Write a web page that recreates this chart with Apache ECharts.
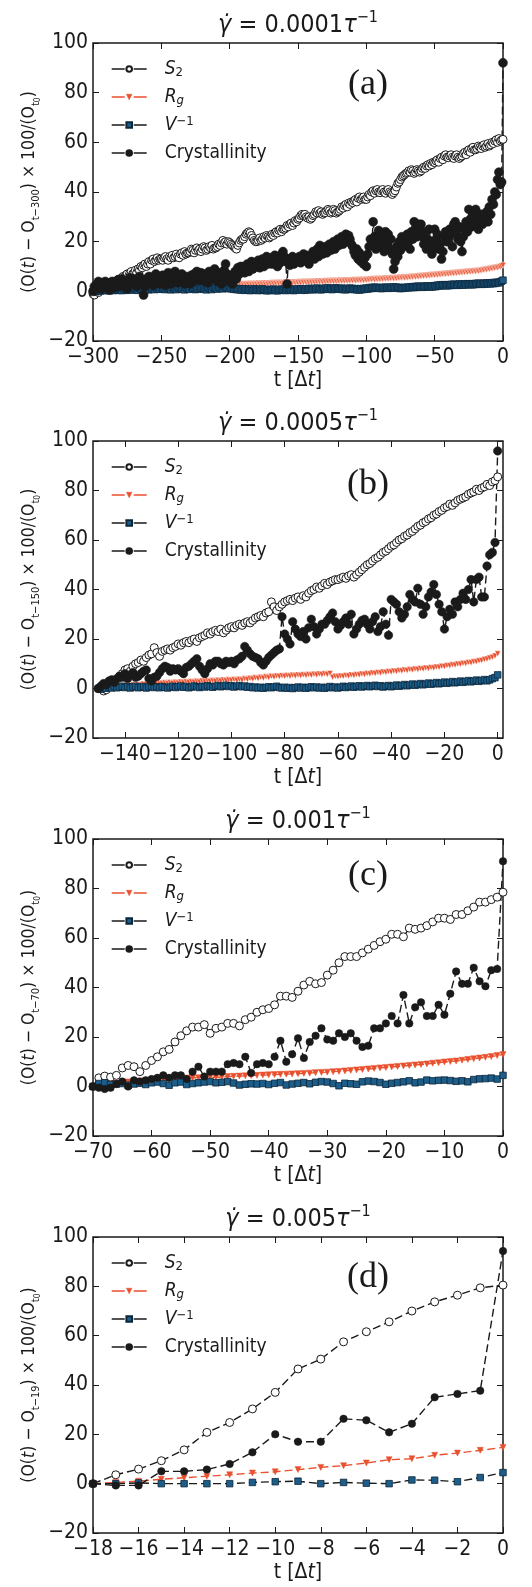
<!DOCTYPE html>
<html><head><meta charset="utf-8">
<script src="https://cdn.jsdelivr.net/npm/echarts@6/dist/echarts.min.js"></script>
<style>html,body{margin:0;padding:0;background:#fff}#c{width:532px;height:1587px}</style>
</head><body><div id="c"></div><script>
// ---------- DATA (t runs from T0 upward in steps of 1) ----------
const T0_A = -300;
const S2_A = [
-1,-1.5,0,0.5,-0.5,1,1.5,0.5,2,1.5,
2,2.5,1.5,3,3.5,2.5,4,3.5,4.5,5,
5,4.5,6,5.5,6.5,7,6,7.5,8,7,
7.5,8.5,7.5,9,8.5,10,9.5,10.5,11,10,
11,12,11,12.5,13,12,12.5,13.5,12.5,13,
13,12.5,13.5,14,13,12.5,14,13.5,14.5,13.5,
14,15,14,13.5,15,15.5,14.5,16,15,15.5,
15.5,16,17,16.5,15.5,16.5,17.5,16.5,17,16,
17,18,17.5,16.5,17,18,17.5,18.5,17,17.5,
17.5,18,19,18.5,19.5,20.5,19.5,20,19,20,
19.6,19,18.5,18,17.5,17,18.5,19.5,20.5,21,
21,22,23,23.5,24,23.6,22.5,21.5,20.5,20,
20,20.5,21.5,20.5,21,22,21.5,22.5,22,21.5,
22,23,22.5,23.5,24,23.5,24.5,25,24,25,
25,25.5,26.5,26,27,27.5,26.5,27.5,28.5,28,
29,29.5,30.5,31,30.5,31,30,29.5,30,29,
29.5,30.5,31,32,31.5,32.5,31.5,32,31,31.5,
31.7,32.5,33,32.5,31.5,32,33,32.5,31.5,32,
32.3,33,34,33.5,34.5,35,34,35.5,35,36,
35.7,36.5,37,36,37.5,38,37,37.5,38,37,
37,38,39,38.5,40,40.5,39.5,40.5,41,40,
39.7,40.5,41,40,39.5,40.5,41,40,39.5,39,
39.7,40.5,42,43.5,44,45,46,46.5,47,47.5,
47.8,48.5,48,49,48.5,47.5,48,49,48.5,48,
48.5,49.5,50,49.5,50.5,51,50.5,51.5,51,52,
51.8,52.5,53,52,53.5,54,53,54.5,55,54,
53.8,54.5,55,54,53.5,54.5,55,54,53.5,54,
54.5,55.5,56,55,56.5,57,56,57.5,58,57,
57,57.5,58.5,58,57.5,58.5,59,58,58.5,59.5,
58.5,59,60,59.5,60.5,61,60,61.5,60.5,61,
61.2];
const RG_A = [
0,0.4,0.1,0.4,0.1,0.5,0.2,0.5,0.2,0.6,
0.3,0.7,0.4,0.7,0.4,0.8,0.5,0.8,0.5,0.9,
0.6,1.0,0.7,1.0,0.7,1.1,0.8,1.1,0.8,1.2,
0.9,1.3,0.9,1.3,1.0,1.4,1.0,1.4,1.1,1.5,
1.1,1.5,1.2,1.6,1.2,1.6,1.3,1.7,1.3,1.7,
1.4,1.8,1.4,1.8,1.5,1.9,1.5,1.9,1.6,2.0,
1.6,2.0,1.7,2.1,1.7,2.1,1.8,2.2,1.8,2.2,
1.9,2.3,1.9,2.3,2.0,2.4,2.0,2.4,2.0,2.4,
2.1,2.5,2.1,2.5,2.2,2.6,2.2,2.6,2.2,2.6,
2.3,2.7,2.3,2.7,2.4,2.8,2.4,2.8,2.4,2.8,
2.5,2.9,2.5,2.9,2.6,3.0,2.6,3.0,2.6,3.0,
2.7,3.1,2.7,3.1,2.8,3.2,2.8,3.2,2.8,3.2,
2.9,3.3,2.9,3.3,3.0,3.4,3.0,3.4,3.0,3.4,
3.1,3.5,3.1,3.5,3.2,3.6,3.2,3.6,3.2,3.6,
3.3,3.7,3.3,3.7,3.4,3.8,3.4,3.8,3.4,3.8,
3.5,3.9,3.5,3.9,3.6,4.0,3.6,4.0,3.6,4.0,
3.7,4.1,3.7,4.1,3.8,4.2,3.8,4.2,3.8,4.2,
3.9,4.3,3.9,4.3,4.0,4.4,4.0,4.4,4.0,4.4,
4.1,4.5,4.1,4.5,4.2,4.6,4.2,4.6,4.2,4.6,
4.3,4.7,4.3,4.7,4.4,4.8,4.4,4.8,4.4,4.8,
4.5,4.9,4.6,5.0,4.7,5.1,4.7,5.1,4.8,5.2,
4.8,5.2,4.9,5.3,5.0,5.4,5.0,5.4,5.1,5.5,
5.1,5.5,5.2,5.6,5.3,5.7,5.4,5.8,5.4,5.8,
5.5,5.9,5.6,6.0,5.7,6.1,5.8,6.2,5.9,6.3,
6.0,6.4,6.1,6.5,6.2,6.6,6.3,6.7,6.4,6.8,
6.5,6.9,6.6,7.0,6.7,7.1,6.8,7.2,6.9,7.3,
7.0,7.4,7.1,7.5,7.2,7.6,7.3,7.7,7.4,7.8,
7.5,7.9,7.6,8.0,7.7,8.1,7.8,8.2,7.9,8.3,
8.0,8.4,8.1,8.5,8.3,8.7,8.5,8.9,8.7,9.1,
8.9,9.3,9.1,9.5,9.3,9.7,9.5,9.9,9.8,10.2,
10.5];
const VINV_A = [
0,0.3,-0.2,0.5,0.1,0.6,0.2,0.8,0.3,0.7,
0.4,0.9,0.2,0.6,1.0,0.3,0.8,0.5,1.1,0.4,
0.9,0.3,1.2,0.6,1.0,0.4,1.3,0.7,1.1,0.5,
1.2,0.6,1.0,0.4,1.3,0.8,1.1,0.5,1.4,0.7,
1.2,0.6,1.5,0.9,1.3,0.7,1.6,1.0,1.4,0.8,
1.5,0.9,1.3,0.7,1.6,1.0,1.2,0.6,1.5,0.9,
1.3,0.7,1.6,1.1,1.4,0.8,1.2,0.6,1.5,1.0,
1.3,0.8,1.6,1.0,1.4,0.7,1.2,0.9,1.5,1.1,
1.4,0.8,1.2,0.6,1.5,1.0,1.3,0.7,1.6,1.1,
1.4,0.9,1.7,1.2,1.5,1.0,1.8,1.3,1.6,1.1,
1.5,1.0,1.3,0.8,1.2,0.7,1.1,0.6,1.0,0.5,
0.9,0.4,1.0,0.5,0.8,0.3,0.9,0.4,1.0,0.5,
0.8,0.3,0.9,0.4,1.0,0.5,0.8,0.2,0.7,0.3,
0.8,0.4,0.9,0.3,0.7,0.2,0.8,0.4,0.9,0.5,
0.8,0.3,0.9,0.5,1.0,0.4,0.8,0.3,0.9,0.5,
1.0,0.6,1.1,0.5,0.9,0.4,1.0,0.6,1.2,0.7,
1.1,0.6,1.2,0.8,1.3,0.7,1.1,0.6,1.2,0.8,
1.3,0.9,1.4,0.8,1.2,0.7,1.3,0.9,1.4,1.0,
1.2,0.8,1.3,0.7,1.1,0.6,1.2,0.8,1.3,0.9,
1.2,0.7,1.1,0.6,1.0,0.5,1.1,0.7,1.2,0.8,
1.3,0.9,1.5,1.1,1.6,1.2,1.7,1.3,1.6,1.2,
1.5,1.1,1.6,1.2,1.7,1.3,1.6,1.2,1.7,1.4,
1.8,1.3,1.7,1.2,1.6,1.1,1.5,1.2,1.6,1.3,
1.7,1.4,1.8,1.5,1.9,1.5,2.0,1.6,2.1,1.7,
2.0,1.6,2.1,1.7,2.2,1.8,2.1,1.7,2.2,1.8,
2.3,1.9,2.5,2.1,2.6,2.2,2.7,2.3,2.6,2.2,
2.7,2.3,2.8,2.4,2.9,2.5,2.8,2.4,3.0,2.6,
2.9,2.5,3.0,2.6,3.1,2.7,3.0,2.6,3.1,2.7,
3.2,2.8,3.3,2.9,3.2,2.8,3.3,2.9,3.4,3.0,
3.4,3.0,3.5,3.1,3.6,3.2,3.7,3.4,3.9,4.1,
4.5];
const CRYST_A = [
0,2,1,3,4,2,1,3.5,2,4,
3,1,0.5,2.5,4,3,1.5,3,4.5,2,
3.5,5,2.5,4,3,1,4.5,5.5,3,4,
5,3.5,2,4.5,6,3,4,-1.5,2,5,
4,6,3.5,5.5,2.5,5,7,4,6,3,
5,6.5,4,2.5,6,7.5,4.5,3,6,5,
8,5.5,3.5,6.5,4,7,5,3,6,4.5,
5.5,3,6.5,4,7,5,8,6,4.5,7.5,
5.5,7,4,6,3.5,8,6.5,5,7,9,
6,4,7.5,5.5,3,6,8.5,11,7,5,
4,6.5,3,5.5,8,5,9.5,7,10,8.5,
10,7.5,9,11,8,10.5,12,9,11.5,10,
10,12.5,9.5,11,13,10,12,14,11,12.5,
13.5,11,12,14.5,12.5,10,13,11.5,15,16,
14,12,3,13,10.5,12.5,14,11,13,12,
12,14,11.5,13,15,12.5,14.5,13,11,14,
14,16,13,15.5,17,14,18.5,16,15,17.5,
18,15.5,17,19,16.5,18,20,17,19.5,21,
18.5,20,22,19,21,23,20.5,22.5,21,19,
18,16,14.5,17,13,15.5,12,14,11,13.5,
10,15,18,21,19,28,22,17,20,24.5,
20,18,22,16,24,19,23,17,21,15,
9,12,18,14,20,16.5,22,18,21,19.5,
23,20,17,24,21,28,25.5,22,27,24,
27,22,19,24,17,21,25,20,15,18,
25,21,23,17,19,13,16,22,24,20,
21,25,23,18,27,28,24,21,26,20,
16,22,25,28,24,33,29,26,31,27,
33,29,25,28,31,27,29,30,32,28,
34,31,37,35,40,39,45,48,43,44,
92];

const T0_B = -150;
const S2_B = [
0,0.5,-1,-0.5,1,2,3,3.5,5,6,
7.5,8,7,9,10,10.5,11.5,11,12.5,13.5,
14,16.5,14.5,13,15,15.5,16,15.5,16.5,17,
18,17.5,18.5,19,18.5,19.5,20,19,20.5,21,
21.5,22.5,22,23,23.5,23,24,22.5,23.5,24.5,
25,24.5,25.5,26,25.5,26.5,27,26.5,27.5,28.5,
29,29.5,29,30.5,31,35,33,31.5,33,34,
35,35.5,36,35.5,36.5,37,36,37.5,37,38.5,
39.5,40,41,40.5,41.5,42.5,42,43,43.5,44,
44,44.5,45,44.5,45.5,46,45,46,47,48,
49,50,50.5,51.5,52.5,53,54,55,55.5,56.5,
57.5,58,59,60,60.5,61.5,62,63,63.5,64.5,
65.5,66,67,67.5,68.5,69,70,70.5,71.5,72,
73,73.5,74.5,74,75,76,76.5,77,77.5,78.5,
79,79.5,80.5,80,81,81.5,82.5,82,83.5,84,
85.5];
const RG_B = [
0,0.3,0.2,0.6,0.4,0.8,0.6,1.0,0.8,1.2,
1.0,1.3,1.1,1.5,1.3,1.6,1.4,1.8,1.6,1.9,
1.7,2.1,1.8,2.2,1.9,2.3,2.0,2.4,2.1,2.5,
2.2,2.6,2.3,2.7,2.4,2.8,2.5,2.9,2.6,3.0,
2.7,3.1,2.8,3.2,2.9,3.3,3.0,3.4,3.1,3.5,
3.2,3.6,3.3,3.7,3.4,3.9,3.6,4.1,3.8,4.3,
4.0,4.5,4.2,4.7,4.4,4.9,4.6,5.1,4.8,5.2,
4.9,5.3,5.0,5.4,5.1,5.5,5.2,5.6,5.3,5.7,
5.4,5.8,5.5,5.9,5.6,6.0,5.7,6.1,4.5,4.9,
4.7,5.1,4.9,5.3,5.1,5.5,5.3,5.7,5.5,5.9,
5.7,6.1,5.9,6.3,6.1,6.5,6.3,6.7,6.5,6.9,
6.7,7.1,6.9,7.3,7.1,7.5,7.3,7.7,7.5,7.9,
7.7,8.1,7.9,8.3,8.1,8.5,8.3,8.7,8.6,9.0,
8.9,9.3,9.2,9.6,9.5,9.9,9.8,10.2,10.1,10.5,
10.4,10.8,10.8,11.2,11.3,11.7,11.9,12.3,12.6,13.1,
14];
const VINV_B = [
0,-0.3,0.4,0.1,0.6,0.2,0.8,0.3,0.5,0.9,
0.4,0.7,0.2,0.6,0.9,0.3,0.5,0.8,0.2,0.6,
0.9,0.4,0.7,0.3,0.8,0.5,0.2,0.6,0.9,0.4,
0.7,1.0,0.5,0.8,0.3,0.6,1.0,0.7,0.4,0.9,
0.6,1.1,0.8,0.5,0.9,1.2,0.7,1.0,1.3,0.8,
1.1,0.6,0.9,1.2,0.7,1.0,0.5,0.8,0.3,0.6,
0.2,0.5,0.1,0.4,0.7,0.3,0.6,0.9,0.4,0.2,
0.5,0.1,0.4,0.0,0.3,0.6,0.2,0.5,0.1,0.4,
0.7,0.3,0.6,0.2,0.5,0.1,0.4,0.8,0.3,0.6,
0.2,0.5,0.9,0.4,0.7,1.0,0.5,0.8,1.1,0.6,
0.9,1.2,0.7,1.0,1.3,0.8,1.1,0.6,0.9,1.2,
0.7,1.0,1.4,0.9,1.2,1.6,1.1,1.4,1.8,1.3,
1.6,2.0,1.5,1.8,2.2,1.7,2.0,2.4,1.9,2.2,
2.6,2.1,2.4,2.8,2.3,2.6,3.0,2.5,2.8,3.2,
2.7,3.0,3.4,2.9,3.2,3.6,3.1,3.5,4.0,4.4,
5.5];
const CRYST_B = [
0,1,2,1.5,3,3.5,2.5,4,5,4.5,
6,4,5.5,6.5,4.5,5,6,7,7.5,4,
3,4.5,5,6.5,8,9,8.5,7,8,7.5,
8,7,6,8.5,9,10,11,12,9,7.5,
6,8,10,9.5,11,11,10,9.5,11,10.5,
11,10,11.5,12,13,17,15.5,14,13,12.5,
12,10.5,9.5,11,12.5,13.5,14.5,15.5,16,29,
22,20,18,27,24,22,21,23,20,24.5,
28,25,22,24,26,26,27.5,29,30.5,27,
24,25.5,27,28.5,26,30,22,24,26,27.5,
28,26,24,27,29,23,25,31,26,21.5,
36,35,34,31,28.5,30,33,38,36,35,
40.5,34,30,33,37,39,42,38,34,31,
24,29,32,30,35,33,36,38.5,36,40,
44,35,44,45,37,37,49.5,54,55,59,
96];

const T0_C = -70;
const S2_C = [
0,3.5,4.2,3.8,4.5,7.5,8.5,8,6,8.5,
10.5,12,14,15,18,20.5,22.5,24,24,25,
21.5,23.5,24,25.5,25.5,24.5,27,28,30,31,
31.5,33,36.5,36.5,36,38.5,41,42.5,41.5,42,
45,47,50,52.5,52.5,52.5,54,55.5,57,58.5,
59.5,61.5,61.5,60.5,64,63.5,64,65,66.5,68,
68,67.5,69.5,69.5,71,72.5,74.5,74.5,75.5,76.5,
78.5];
const RG_C = [
0,0.5,0.8,1,1.3,1.5,1.8,2,2.2,2.3,
2.5,2.7,2.8,3,3.1,3.3,3.4,3.6,3.5,3.7,
3.8,3.7,3.9,4,4.1,4.2,4.3,4.4,4.5,4.6,
4.7,4.8,4.9,5.0,5.1,5.2,5.3,5.4,5.6,5.7,
5.8,6,6.1,6.3,6.5,6.7,6.9,7.1,7.3,7.5,
7.7,7.9,8.1,8.3,8.5,8.7,8.9,9.1,9.4,9.6,
9.9,10.1,10.3,10.6,10.9,11.2,11.5,11.8,12.1,12.5,
12.9];
const VINV_C = [
0,1.2,1.5,0.8,1,1.2,0.5,1,1.3,0.8,
1.5,1.8,1.2,0.5,1.5,1.8,0.8,1.2,1.5,1.8,
2,1.5,1.7,2,1.4,0.6,0.9,1.1,1,1.2,
0.8,1.3,1.6,0.6,1,1.3,1.6,1.1,1.7,2,
1.8,1.2,0.3,1.3,1.1,0.9,1.9,2.2,2,1.6,
0.9,1.3,1.6,1.9,2.3,1.5,1.8,2.6,2.3,2.5,
2.6,2.4,2.1,2.3,1.9,2.8,3.1,3.2,3.4,3.0,
4.5];
const CRYST_C = [
0,-0.5,-1,-0.5,1,2,0,2.5,2,2.5,
3,3.5,4.5,3.5,4.5,4.5,3,6,8,4,
6,6,6,9,9.5,9,12,5.5,9,9.5,
9,12,18.5,10,13,19.5,11.5,18,20.5,23.5,
19,18.5,21.5,20,21.5,18.5,16,16.5,23.5,23.5,
25.5,28.5,25.5,37,25.5,32,34,28.5,28.5,33,
29,37.5,46.5,41.5,41.5,48,42.5,40.5,47,47.5,
91];

const T0_D = -18;
const S2_D = [0,3.6,5.9,9.3,13.7,20.8,24.8,30.3,37,46.5,50.5,57.5,61.6,65.6,70,73.7,76.4,79.4,80.5];
const RG_D = [0,0.5,1,1.8,2.4,3,3.6,4.3,4.8,5.7,6.6,7.3,8.4,9.7,10.1,11.5,12.4,13.5,14.7];
const VINV_D = [0,0,0.3,0,0,0,0,0.5,0.8,1,0,0.5,0.2,0,1.5,1.4,0.8,2.5,4.5];
const CRYST_D = [0,-0.7,-0.7,5,5,5.7,8,12.7,20,17,17,26.3,25.7,20.8,24.3,35,36.4,37.7,94.3];

const X_TICKS_A = [-300,-250,-200,-150,-100,-50,0];
const X_TICKS_B = [-140,-120,-100,-80,-60,-40,-20,0];
const X_TICKS_C = [-70,-60,-50,-40,-30,-20,-10,0];
const X_TICKS_D = [-18,-16,-14,-12,-10,-8,-6,-4,-2,0];
const Y_TICKS = [-20,0,20,40,60,80,100];
const SERIES_NAMES = ['S2','Rg','V-1','Crystallinity'];
const RATES = ['0.0001','0.0005','0.001','0.005'];
const REF_SUB = ['t−300','t−150','t−70','t−19'];
const LABELS = ['(a)','(b)','(c)','(d)'];

// ---------- LAYOUT / STYLE ----------
const FONT = "'DejaVu Sans Condensed','DejaVu Sans',sans-serif";
const INK = '#1a1a1a';
const RED = '#e9502e';
const BLUE = '#1d5d8a';
const PANELS = [
  {t0:T0_A, min:-300, max:0, ticks:X_TICKS_A, top:43,  h:298, vals:[S2_A,RG_A,VINV_A,CRYST_A], labelDy:42, cs:9,   rgEdge:'#fff'},
  {t0:T0_B, min:-152, max:2, ticks:X_TICKS_B, top:441, h:297, vals:[S2_B,RG_B,VINV_B,CRYST_B], labelDy:44, cs:8.5, rgEdge:'#fff'},
  {t0:T0_C, min:-70,  max:0, ticks:X_TICKS_C, top:839, h:297, vals:[S2_C,RG_C,VINV_C,CRYST_C], labelDy:37, cs:7.5, rgEdge:RED},
  {t0:T0_D, min:-18,  max:0, ticks:X_TICKS_D, top:1237,h:296, vals:[S2_D,RG_D,VINV_D,CRYST_D], labelDy:41, cs:7.5, rgEdge:RED}
];
const minus = v => String(v).replace('-', '−');
const DASH = [8, 4];

const option = {animation:false, backgroundColor:'#fff', grid:[], xAxis:[], yAxis:[], series:[], title:[], legend:[]};

PANELS.forEach((p, i) => {
  option.grid.push({left:93, width:410, top:p.top, height:p.h, show:true, borderColor:INK, borderWidth:1.5, backgroundColor:'transparent'});
  const tickStyle = {inside:true, length:6, lineStyle:{color:INK, width:1}, customValues:p.ticks};
  option.xAxis.push({
    type:'value', gridIndex:i, min:p.min, max:p.max, position:'bottom',
    axisLine:{show:false, onZero:false}, splitLine:{show:false},
    axisTick:tickStyle,
    axisLabel:{customValues:p.ticks, fontSize:21, color:INK, margin:6, fontFamily:FONT, formatter:minus, showMinLabel:true, showMaxLabel:true},
    name:'t [Δ{i|t}]', nameLocation:'middle', nameGap:26,
    nameTextStyle:{fontSize:21, color:INK, fontFamily:FONT, lineHeight:24, rich:{i:{fontStyle:'italic', fontSize:21}}}
  });
  option.xAxis.push({
    type:'value', gridIndex:i, min:p.min, max:p.max, position:'top',
    axisLine:{show:false, onZero:false}, splitLine:{show:false},
    axisTick:tickStyle, axisLabel:{show:false}
  });
  const yTick = {inside:true, length:6, lineStyle:{color:INK, width:1}};
  option.yAxis.push({
    type:'value', gridIndex:i, min:-20, max:100, interval:20, position:'left',
    axisLine:{show:false, onZero:false}, splitLine:{show:false}, axisTick:yTick,
    axisLabel:{fontSize:21, color:INK, margin:5, fontFamily:FONT, formatter:minus},
    name:'(O({i|t}) − O{sub|' + REF_SUB[i] + '}) × 100/(O{sub|t}{sub2|0})',
    nameLocation:'middle', nameRotate:90, nameGap:51, nameMoveOverlap:false,
    nameTextStyle:{fontSize:17.5, color:INK, fontFamily:FONT, lineHeight:26,
      rich:{i:{fontStyle:'italic', fontSize:17.5, lineHeight:26},
            sub:{fontSize:11, lineHeight:11, verticalAlign:'bottom'},
            sub2:{fontSize:8.5, lineHeight:8, verticalAlign:'bottom'}}}
  });
  option.yAxis.push({
    type:'value', gridIndex:i, min:-20, max:100, interval:20, position:'right',
    axisLine:{show:false, onZero:false}, splitLine:{show:false}, axisTick:yTick, axisLabel:{show:false}
  });
  const xi = 2*i, yi = 2*i;
  const pts = arr => arr.map((v, k) => [p.t0 + k, v]);
  option.series.push(
    {name:SERIES_NAMES[0], type:'line', xAxisIndex:xi, yAxisIndex:yi, data:pts(p.vals[0]),
     symbol:'circle', symbolSize:8, itemStyle:{color:'#fff', borderColor:INK, borderWidth:1},
     lineStyle:{color:INK, width:1.4, type:DASH}},
    {name:SERIES_NAMES[1], type:'line', xAxisIndex:xi, yAxisIndex:yi, data:pts(p.vals[1]),
     symbol:'triangle', symbolRotate:180, symbolSize:6, itemStyle:{color:RED, borderColor:p.rgEdge, borderWidth:0.5},
     lineStyle:{color:RED, width:1.4, type:DASH}},
    {name:SERIES_NAMES[2], type:'line', xAxisIndex:xi, yAxisIndex:yi, data:pts(p.vals[2]),
     symbol:'rect', symbolSize:6.5, itemStyle:{color:BLUE, borderColor:'#0c2638', borderWidth:0.8},
     lineStyle:{color:INK, width:1.4, type:DASH}},
    {name:SERIES_NAMES[3], type:'line', xAxisIndex:xi, yAxisIndex:yi, data:pts(p.vals[3]),
     symbol:'circle', symbolSize:p.cs, itemStyle:{color:INK, borderColor:INK, borderWidth:0.5},
     lineStyle:{color:INK, width:1.4, type:DASH}}
  );
  option.title.push({
    text:'{g|γ̇} = ' + RATES[i] + '{g|τ}{sup|−1}', left:298, top:p.top - 33, textAlign:'center', padding:0,
    textStyle:{fontSize:25, fontWeight:'normal', color:INK, fontFamily:FONT, lineHeight:30,
      rich:{g:{fontStyle:'italic', fontSize:25, lineHeight:30}, sup:{fontSize:16, lineHeight:16, verticalAlign:'top'}}}
  });
  option.title.push({
    text:LABELS[i], left:368, top:p.top + p.labelDy - 20, textAlign:'center', padding:0,
    textStyle:{fontSize:36, fontWeight:'normal', color:INK, fontFamily:"'Liberation Serif','DejaVu Serif',serif", lineHeight:40}
  });
  option.legend.push({
    data:[SERIES_NAMES[0], {name:SERIES_NAMES[1], itemStyle:{color:RED, borderColor:RED, borderWidth:0.5}}, SERIES_NAMES[2], SERIES_NAMES[3]],
    left:111, top:p.top + 16, orient:'vertical', padding:0,
    itemWidth:35, itemHeight:7, itemGap:8, selectedMode:false,
    lineStyle:{type:[13,9], width:1.4},
    formatter: n => ({'S2':'{i|S}{sub|2}', 'Rg':'{i|R}{isub|g}', 'V-1':'{i|V}{sup|−1}', 'Crystallinity':'Crystallinity'})[n],
    textStyle:{fontSize:19, color:INK, fontFamily:FONT, lineHeight:20, padding:[0,0,0,13],
      rich:{i:{fontStyle:'italic', fontSize:19, lineHeight:20},
            sub:{fontSize:13, lineHeight:12, verticalAlign:'bottom'},
            isub:{fontSize:13, fontStyle:'italic', lineHeight:12, verticalAlign:'bottom'},
            sup:{fontSize:13, lineHeight:12, verticalAlign:'top'}}}
  });
});

const chart = echarts.init(document.getElementById('c'), null, {renderer:'canvas'});
chart.setOption(option);
</script></body></html>
